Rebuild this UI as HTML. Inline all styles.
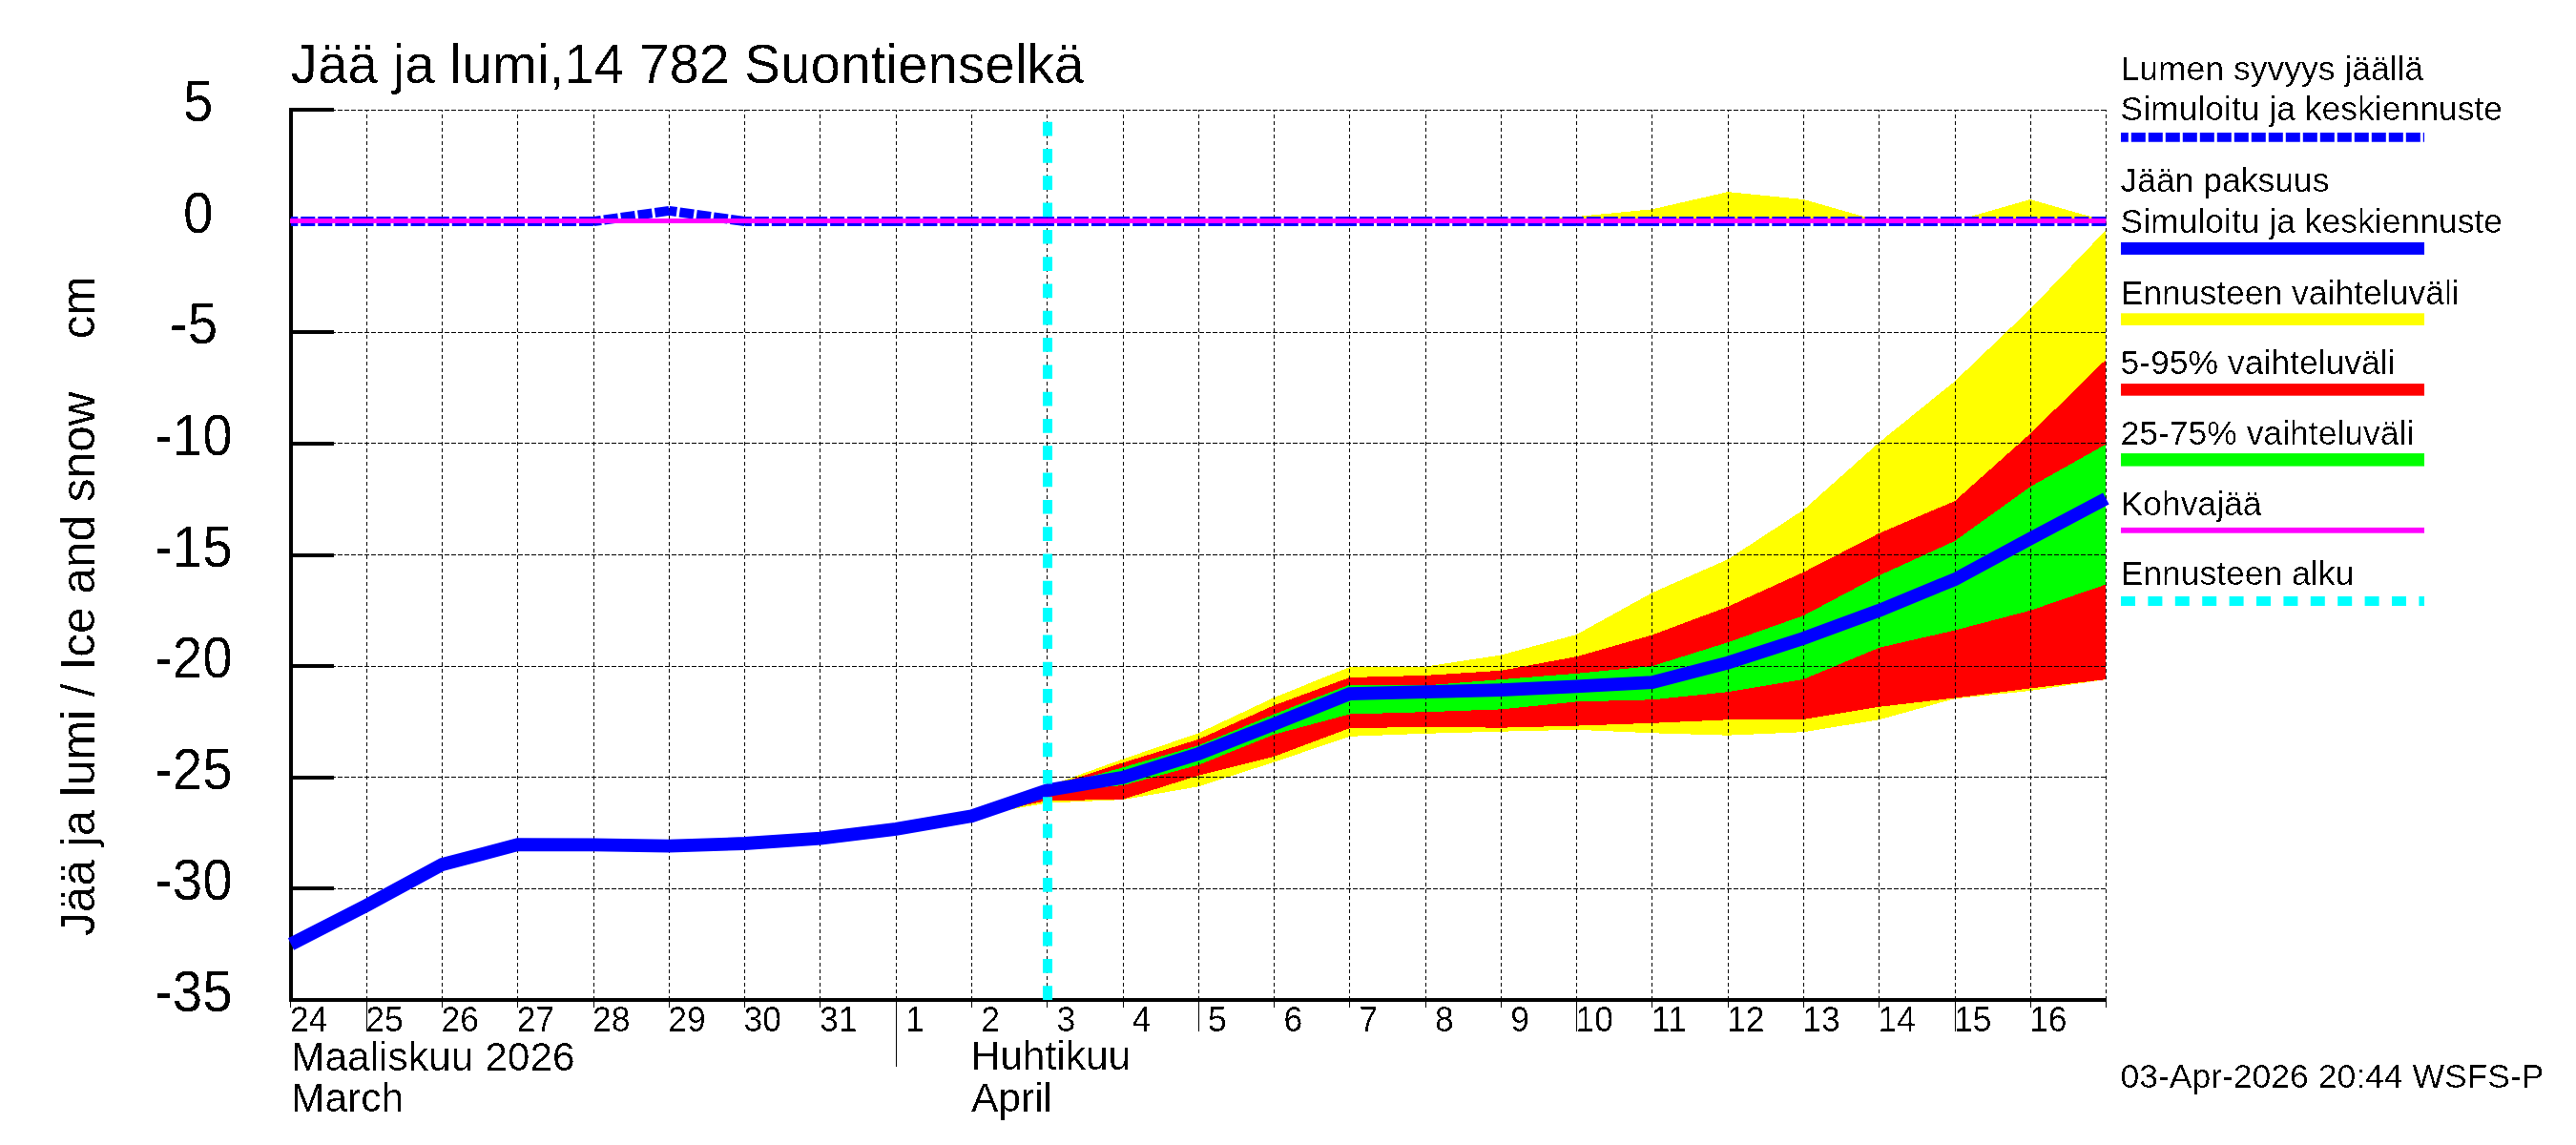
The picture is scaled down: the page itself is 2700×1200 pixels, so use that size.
<!DOCTYPE html><html><head><meta charset="utf-8"><title>Jää ja lumi, 14 782 Suontienselkä</title>
<style>html,body{margin:0;padding:0;background:#fff;width:2700px;height:1200px;overflow:hidden}svg{display:block}text{font-family:"Liberation Sans",Arial,Helvetica,sans-serif;fill:#000}</style></head><body>
<svg width="2700" height="1200" viewBox="0 0 2700 1200">
<defs><filter id="bin" x="0" y="0" width="100%" height="100%" color-interpolation-filters="sRGB"><feComponentTransfer><feFuncA type="linear" slope="50" intercept="-30"/></feComponentTransfer></filter></defs>
<rect x="0" y="0" width="2700" height="1200" fill="#fff"/>
<polygon points="1494.0,231.6 1573.3,229.8 1652.5,227.0 1731.8,219.3 1811.1,201.1 1890.3,209.0 1969.6,231.6 2048.9,231.6 2128.1,209.0 2207.4,231.6 2207.4,231.6" fill="#ffff00" shape-rendering="crispEdges"/>
<polygon points="1018.4,855.3 1097.7,824.1 1176.9,795.6 1256.2,768.3 1335.5,731.0 1414.7,699.1 1494.0,698.6 1573.3,686.5 1652.5,665.0 1731.8,621.2 1811.1,586.2 1890.3,534.4 1969.6,463.7 2048.9,399.6 2128.1,323.8 2207.4,241.0 2207.4,712.1 2128.1,724.0 2048.9,732.2 1969.6,754.3 1890.3,767.2 1811.1,770.7 1731.8,768.3 1652.5,764.8 1573.3,766.7 1494.0,768.8 1414.7,771.8 1335.5,798.7 1256.2,824.3 1176.9,838.1 1097.7,841.6 1018.4,855.3" fill="#ffff00" shape-rendering="crispEdges"/>
<polygon points="1018.4,855.3 1097.7,825.2 1176.9,799.4 1256.2,774.9 1335.5,739.2 1414.7,710.0 1494.0,707.9 1573.3,702.8 1652.5,688.1 1731.8,665.5 1811.1,635.8 1890.3,599.7 1969.6,558.9 2048.9,525.1 2128.1,454.4 2207.4,376.7 2207.4,712.1 2128.1,721.4 2048.9,731.5 1969.6,740.8 1890.3,753.9 1811.1,754.3 1731.8,757.8 1652.5,760.6 1573.3,762.7 1494.0,761.8 1414.7,763.2 1335.5,792.8 1256.2,812.7 1176.9,837.8 1097.7,839.2 1018.4,855.3" fill="#ff0000" shape-rendering="crispEdges"/>
<polygon points="1018.4,855.3 1097.7,826.4 1176.9,804.3 1256.2,781.2 1335.5,748.5 1414.7,717.5 1494.0,718.4 1573.3,712.1 1652.5,705.8 1731.8,698.1 1811.1,673.2 1890.3,645.2 1969.6,603.2 2048.9,567.0 2128.1,510.1 2207.4,465.6 2207.4,612.5 2128.1,639.8 2048.9,660.6 1969.6,678.8 1890.3,711.9 1811.1,725.2 1731.8,733.3 1652.5,735.4 1573.3,743.4 1494.0,746.2 1414.7,748.5 1335.5,769.7 1256.2,801.7 1176.9,823.1 1097.7,829.9 1018.4,855.3" fill="#00ff00" shape-rendering="crispEdges"/>
<g stroke="#000" stroke-width="1" fill="none" shape-rendering="crispEdges"><line x1="305" y1="115.5" x2="2208" y2="115.5" stroke-dasharray="5 2"/><line x1="305" y1="231.5" x2="2208" y2="231.5" stroke-dasharray="5 2"/><line x1="305" y1="348.5" x2="2208" y2="348.5" stroke-dasharray="5 2"/><line x1="305" y1="464.5" x2="2208" y2="464.5" stroke-dasharray="5 2"/><line x1="305" y1="581.5" x2="2208" y2="581.5" stroke-dasharray="5 2"/><line x1="305" y1="698.5" x2="2208" y2="698.5" stroke-dasharray="5 2"/><line x1="305" y1="814.5" x2="2208" y2="814.5" stroke-dasharray="5 2"/><line x1="305" y1="931.5" x2="2208" y2="931.5" stroke-dasharray="5 2"/><line x1="384.5" y1="1048" x2="384.5" y2="115" stroke-dasharray="4 3"/><line x1="463.5" y1="1048" x2="463.5" y2="115" stroke-dasharray="4 3"/><line x1="542.5" y1="1048" x2="542.5" y2="115" stroke-dasharray="4 3"/><line x1="622.5" y1="1048" x2="622.5" y2="115" stroke-dasharray="4 3"/><line x1="701.5" y1="1048" x2="701.5" y2="115" stroke-dasharray="4 3"/><line x1="780.5" y1="1048" x2="780.5" y2="115" stroke-dasharray="4 3"/><line x1="859.5" y1="1048" x2="859.5" y2="115" stroke-dasharray="4 3"/><line x1="939.5" y1="1048" x2="939.5" y2="115" stroke-dasharray="4 3"/><line x1="1018.5" y1="1048" x2="1018.5" y2="115" stroke-dasharray="4 3"/><line x1="1097.5" y1="1048" x2="1097.5" y2="115" stroke-dasharray="4 3"/><line x1="1177.5" y1="1048" x2="1177.5" y2="115" stroke-dasharray="4 3"/><line x1="1256.5" y1="1048" x2="1256.5" y2="115" stroke-dasharray="4 3"/><line x1="1335.5" y1="1048" x2="1335.5" y2="115" stroke-dasharray="4 3"/><line x1="1414.5" y1="1048" x2="1414.5" y2="115" stroke-dasharray="4 3"/><line x1="1494.5" y1="1048" x2="1494.5" y2="115" stroke-dasharray="4 3"/><line x1="1573.5" y1="1048" x2="1573.5" y2="115" stroke-dasharray="4 3"/><line x1="1652.5" y1="1048" x2="1652.5" y2="115" stroke-dasharray="4 3"/><line x1="1731.5" y1="1048" x2="1731.5" y2="115" stroke-dasharray="4 3"/><line x1="1811.5" y1="1048" x2="1811.5" y2="115" stroke-dasharray="4 3"/><line x1="1890.5" y1="1048" x2="1890.5" y2="115" stroke-dasharray="4 3"/><line x1="1969.5" y1="1048" x2="1969.5" y2="115" stroke-dasharray="4 3"/><line x1="2049.5" y1="1048" x2="2049.5" y2="115" stroke-dasharray="4 3"/><line x1="2128.5" y1="1048" x2="2128.5" y2="115" stroke-dasharray="4 3"/><line x1="2207.5" y1="1048" x2="2207.5" y2="115" stroke-dasharray="4 3"/></g>
<g fill="#000" shape-rendering="crispEdges">
<rect x="303" y="113" width="4" height="937"/>
<rect x="303" y="1046" width="1905" height="4"/>
<rect x="303" y="113.0" width="47" height="4"/>
<rect x="303" y="229.6" width="47" height="4"/>
<rect x="303" y="346.2" width="47" height="4"/>
<rect x="303" y="462.9" width="47" height="4"/>
<rect x="303" y="579.5" width="47" height="4"/>
<rect x="303" y="696.1" width="47" height="4"/>
<rect x="303" y="812.8" width="47" height="4"/>
<rect x="303" y="929.4" width="47" height="4"/>
<rect x="303" y="1046.0" width="47" height="4"/>
<rect x="304" y="1050" width="1" height="6"/>
<rect x="384" y="1050" width="1" height="31"/>
<rect x="463" y="1050" width="1" height="6"/>
<rect x="542" y="1050" width="1" height="6"/>
<rect x="622" y="1050" width="1" height="6"/>
<rect x="701" y="1050" width="1" height="6"/>
<rect x="780" y="1050" width="1" height="6"/>
<rect x="859" y="1050" width="1" height="6"/>
<rect x="939" y="1050" width="1" height="68"/>
<rect x="1018" y="1050" width="1" height="6"/>
<rect x="1097" y="1050" width="1" height="6"/>
<rect x="1177" y="1050" width="1" height="6"/>
<rect x="1256" y="1050" width="1" height="31"/>
<rect x="1335" y="1050" width="1" height="6"/>
<rect x="1414" y="1050" width="1" height="6"/>
<rect x="1494" y="1050" width="1" height="6"/>
<rect x="1573" y="1050" width="1" height="6"/>
<rect x="1652" y="1050" width="1" height="31"/>
<rect x="1731" y="1050" width="1" height="6"/>
<rect x="1811" y="1050" width="1" height="6"/>
<rect x="1890" y="1050" width="1" height="6"/>
<rect x="1969" y="1050" width="1" height="6"/>
<rect x="2049" y="1050" width="1" height="31"/>
<rect x="2128" y="1050" width="1" height="6"/>
<rect x="2207" y="1050" width="1" height="6"/>
</g>
<polyline points="305.0,989.5 384.3,948.9 463.5,906.0 542.8,885.2 622.1,885.4 701.3,886.6 780.6,884.0 859.9,878.7 939.1,868.9 1018.4,855.3 1097.7,828.3 1176.9,814.8 1256.2,790.0 1335.5,758.8 1414.7,727.0 1494.0,725.2 1573.3,723.1 1652.5,719.4 1731.8,715.2 1811.1,694.6 1890.3,669.0 1969.6,639.8 2048.9,607.2 2128.1,564.5 2207.4,522.5" fill="none" stroke="#0000ff" stroke-width="13.8" stroke-linejoin="miter" stroke-miterlimit="10" stroke-linecap="butt"/>
<g stroke="#0000ff" stroke-width="10" stroke-dasharray="15 3" fill="none"><line x1="384.27" y1="232.07" x2="305.00" y2="232.07"/><line x1="463.53" y1="232.07" x2="384.27" y2="232.07"/><line x1="542.80" y1="232.07" x2="463.53" y2="232.07"/><line x1="622.07" y1="232.07" x2="542.80" y2="232.07"/><line x1="701.33" y1="220.88" x2="622.07" y2="232.07"/><line x1="780.60" y1="232.07" x2="701.33" y2="220.88"/><line x1="859.87" y1="232.07" x2="780.60" y2="232.07"/><line x1="939.13" y1="232.07" x2="859.87" y2="232.07"/><line x1="1018.40" y1="232.07" x2="939.13" y2="232.07"/><line x1="1097.67" y1="232.07" x2="1018.40" y2="232.07"/><line x1="1176.93" y1="232.07" x2="1097.67" y2="232.07"/><line x1="1256.20" y1="232.07" x2="1176.93" y2="232.07"/><line x1="1335.47" y1="232.07" x2="1256.20" y2="232.07"/><line x1="1414.73" y1="232.07" x2="1335.47" y2="232.07"/><line x1="1494.00" y1="232.07" x2="1414.73" y2="232.07"/><line x1="1573.27" y1="232.07" x2="1494.00" y2="232.07"/><line x1="1652.53" y1="232.07" x2="1573.27" y2="232.07"/><line x1="1731.80" y1="232.07" x2="1652.53" y2="232.07"/><line x1="1811.07" y1="232.07" x2="1731.80" y2="232.07"/><line x1="1890.33" y1="232.07" x2="1811.07" y2="232.07"/><line x1="1969.60" y1="232.07" x2="1890.33" y2="232.07"/><line x1="2048.87" y1="232.07" x2="1969.60" y2="232.07"/><line x1="2128.13" y1="232.07" x2="2048.87" y2="232.07"/><line x1="2207.40" y1="232.07" x2="2128.13" y2="232.07"/></g>
<line x1="304.0" y1="231.5" x2="2207.4" y2="231.5" stroke="#ff00ff" stroke-width="5"/>
<line x1="1098" y1="1048" x2="1098" y2="115" stroke="#00ffff" stroke-width="10" stroke-dasharray="14.7 13.6"/>
<line x1="2223" y1="143.9" x2="2541" y2="143.9" stroke="#0000ff" stroke-width="9.7" stroke-dasharray="15 3" stroke-dashoffset="7.2"/>
<rect x="2223" y="253.9" width="318" height="13" fill="#0000ff"/>
<rect x="2223" y="328.3" width="318" height="12.6" fill="#ffff00"/>
<rect x="2223" y="402.1" width="318" height="12.6" fill="#ff0000"/>
<rect x="2223" y="475.1" width="318" height="13.5" fill="#00ff00"/>
<rect x="2223" y="552.9" width="318" height="5.8" fill="#ff00ff"/>
<line x1="2223" y1="630" x2="2541" y2="630" stroke="#00ffff" stroke-width="9.8" stroke-dasharray="15 13.4"/>
<g filter="url(#bin)"><text transform="translate(192.0,127.0) scale(1,1.065)" font-size="56.6">5</text><text transform="translate(192.0,243.6) scale(1,1.065)" font-size="56.6">0</text><text transform="translate(177.8,360.2) scale(1,1.065)" font-size="56.6">-5</text><text transform="translate(161.9,476.9) scale(1,1.065)" font-size="56.6">-10</text><text transform="translate(161.9,593.5) scale(1,1.065)" font-size="56.6">-15</text><text transform="translate(161.9,710.1) scale(1,1.065)" font-size="56.6">-20</text><text transform="translate(161.9,826.8) scale(1,1.065)" font-size="56.6">-25</text><text transform="translate(161.9,943.4) scale(1,1.065)" font-size="56.6">-30</text><text transform="translate(161.9,1060.0) scale(1,1.065)" font-size="56.6">-35</text><text transform="translate(304.0,1081) scale(1,1.06)" font-size="35.5">24</text><text transform="translate(383.3,1081) scale(1,1.06)" font-size="35.5">25</text><text transform="translate(462.5,1081) scale(1,1.06)" font-size="35.5">26</text><text transform="translate(541.8,1081) scale(1,1.06)" font-size="35.5">27</text><text transform="translate(621.1,1081) scale(1,1.06)" font-size="35.5">28</text><text transform="translate(700.3,1081) scale(1,1.06)" font-size="35.5">29</text><text transform="translate(779.6,1081) scale(1,1.06)" font-size="35.5">30</text><text transform="translate(858.9,1081) scale(1,1.06)" font-size="35.5">31</text><text transform="translate(949.0,1081) scale(1,1.06)" font-size="35.5">1</text><text transform="translate(1028.3,1081) scale(1,1.06)" font-size="35.5">2</text><text transform="translate(1107.6,1081) scale(1,1.06)" font-size="35.5">3</text><text transform="translate(1186.8,1081) scale(1,1.06)" font-size="35.5">4</text><text transform="translate(1266.1,1081) scale(1,1.06)" font-size="35.5">5</text><text transform="translate(1345.4,1081) scale(1,1.06)" font-size="35.5">6</text><text transform="translate(1424.6,1081) scale(1,1.06)" font-size="35.5">7</text><text transform="translate(1503.9,1081) scale(1,1.06)" font-size="35.5">8</text><text transform="translate(1583.2,1081) scale(1,1.06)" font-size="35.5">9</text><text transform="translate(1651.5,1081) scale(1,1.06)" font-size="35.5">10</text><text transform="translate(1730.8,1081) scale(1,1.06)" font-size="35.5">11</text><text transform="translate(1810.1,1081) scale(1,1.06)" font-size="35.5">12</text><text transform="translate(1889.3,1081) scale(1,1.06)" font-size="35.5">13</text><text transform="translate(1968.6,1081) scale(1,1.06)" font-size="35.5">14</text><text transform="translate(2047.9,1081) scale(1,1.06)" font-size="35.5">15</text><text transform="translate(2127.1,1081) scale(1,1.06)" font-size="35.5">16</text><text x="305" y="1121.5" font-size="42.5">Maaliskuu 2026</text><text x="305" y="1165" font-size="42.5">March</text><text x="1017.5" y="1121" font-size="42.5">Huhtikuu</text><text x="1018" y="1164.5" font-size="42.5">April</text><text x="304.6" y="87" font-size="56.68">Jää ja lumi,14 782 Suontienselkä</text><text transform="translate(99,981) rotate(-90)" font-size="49.6" xml:space="preserve" style="white-space:pre">Jää ja lumi / Ice and snow    cm</text><text x="2222.5" y="84.3" font-size="35.5">Lumen syvyys jäällä</text><text x="2222.5" y="126.4" font-size="35.5">Simuloitu ja keskiennuste</text><text x="2222.5" y="201.1" font-size="35.5">Jään paksuus</text><text x="2222.5" y="243.8" font-size="35.5">Simuloitu ja keskiennuste</text><text x="2222.5" y="318.6" font-size="35.5">Ennusteen vaihteluväli</text><text x="2222.5" y="392.4" font-size="35.5">5-95% vaihteluväli</text><text x="2222.5" y="465.5" font-size="35.5">25-75% vaihteluväli</text><text x="2222.5" y="539.7" font-size="35.5">Kohvajää</text><text x="2222.5" y="613.4" font-size="35.5">Ennusteen alku</text><text x="2222.5" y="1140.2" font-size="35.5">03-Apr-2026 20:44 WSFS-P</text></g>
</svg></body></html>
